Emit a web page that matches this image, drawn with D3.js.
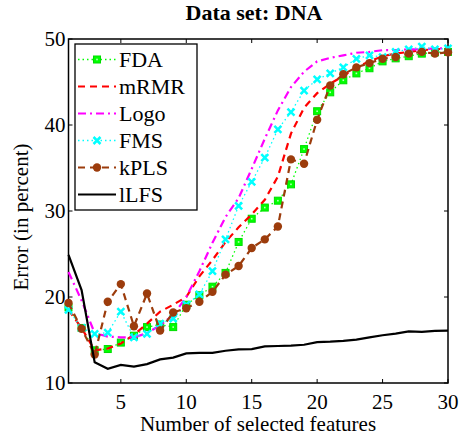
<!DOCTYPE html>
<meta charset="utf-8">
<style>
  body { margin: 0; background: #fff; }
  text { font-family: "Liberation Serif", "Times New Roman", serif; }
</style>
<div id="my_dataviz"></div>
<script src="https://d3js.org/d3.v7.min.js"></script>
<script>

// number of selected features
var features = d3.range(1, 31);

// error in percent for each method
var fda  = [18.8, 16.4, 13.8, 13.95, 14.7, 15.5, 16.5, 16.8, 16.5, 19.1, 20.2, 21.2, 22.8, 26.4, 29.1,
            30.4, 31.2, 33.1, 37.2, 41.6, 43.8, 45.2, 46.0, 46.6, 47.4, 47.75, 48.0, 48.3, 48.45, 48.5];
var mrmr = [18.5, 16.4, 13.8, 14.0, 14.6, 15.6, 16.9, 18.3, 19.1, 20.0, 22.4, 24.3, 26.4, 28.1, 29.6,
            31.3, 34.0, 39.0, 42.0, 43.7, 44.8, 45.7, 46.7, 47.4, 48.0, 48.3, 48.5, 48.7, 48.8, 48.9];
var logo = [22.9, 19.6, 15.8, 15.4, 15.3, 15.3, 15.8, 16.7, 17.9, 20.0, 23.0, 26.3, 29.3, 31.5, 34.9,
            38.4, 41.7, 44.4, 46.2, 47.4, 47.8, 48.1, 48.4, 48.5, 48.7, 48.7, 48.8, 48.8, 48.9, 48.9];
var fms  = [18.5, 16.4, 15.7, 15.85, 18.3, 15.3, 15.7, 16.9, 17.5, 19.1, 20.3, 23.0, 26.7, 30.6, 33.4,
            36.2, 39.5, 41.5, 44.0, 45.3, 46.0, 46.7, 47.7, 48.1, 47.9, 48.5, 48.8, 49.1, 48.8, 48.9];
var kpls = [19.3, 16.3, 13.3, 19.45, 21.5, 16.6, 20.4, 16.1, 18.2, 18.7, 19.45, 20.6, 22.6, 23.6, 25.7,
            26.7, 28.2, 36.0, 35.5, 40.6, 44.6, 45.9, 46.7, 47.2, 47.7, 47.9, 48.3, 48.5, 48.3, 48.45];
var llfs = [24.9, 20.8, 12.4, 11.65, 12.1, 11.9, 12.2, 12.75, 12.95, 13.45, 13.5, 13.5, 13.75, 13.9, 13.95,
            14.25, 14.3, 14.35, 14.45, 14.75, 14.8, 14.9, 15.05, 15.3, 15.55, 15.75, 16.0, 15.95, 16.05, 16.1];

var xTicks = [5, 10, 15, 20, 25, 30];
var yTicks = [10, 20, 30, 40, 50];

var series = [
  {name: "FDA",  values: fda,  color: "#00ff00", dash: "1.5,3",     width: 1.3, marker: "square"},
  {name: "mRMR", values: mrmr, color: "#ff0000", dash: "7,5",       width: 2.2, marker: "none"},
  {name: "Logo", values: logo, color: "#ff00ff", dash: "8,4,2,4",   width: 2.2, marker: "none"},
  {name: "FMS",  values: fms,  color: "#00ffff", dash: "1.5,3",     width: 1.3, marker: "cross"},
  {name: "kPLS", values: kpls, color: "#9c3c0c", dash: "7,5",       width: 2.2, marker: "circle"},
  {name: "lLFS", values: llfs, color: "#000000", dash: null,        width: 2.2, marker: "none"}
];

var W = 463, H = 439;
var svg = d3.select("#my_dataviz")
  .append("svg")
    .attr("width", W)
    .attr("height", H);

var x = d3.scaleLinear().domain([1, 30]).range([68.5, 448]);
var y = d3.scaleLinear().domain([10, 50]).range([383, 39]);

// title
svg.append("text")
  .attr("x", 254).attr("y", 20)
  .attr("text-anchor", "middle")
  .style("font-size", "22px").style("font-weight", "bold")
  .text("Data set: DNA");

// plot box
svg.append("rect")
  .attr("x", x(1)).attr("y", y(50))
  .attr("width", x(30) - x(1)).attr("height", y(10) - y(50))
  .attr("fill", "none").attr("stroke", "#000").attr("stroke-width", 1.5);

// ticks (inward, on all sides)
var tl = 4;
xTicks.forEach(function(t) {
  svg.append("line").attr("x1", x(t)).attr("x2", x(t)).attr("y1", y(10)).attr("y2", y(10) - tl)
    .attr("stroke", "#000").attr("stroke-width", 1);
  svg.append("line").attr("x1", x(t)).attr("x2", x(t)).attr("y1", y(50)).attr("y2", y(50) + tl)
    .attr("stroke", "#000").attr("stroke-width", 1);
  svg.append("text").attr("x", x(t)).attr("y", 409)
    .attr("text-anchor", "middle").style("font-size", "21px").text(t);
});
yTicks.forEach(function(t) {
  svg.append("line").attr("x1", x(1)).attr("x2", x(1) + tl).attr("y1", y(t)).attr("y2", y(t))
    .attr("stroke", "#000").attr("stroke-width", 1);
  svg.append("line").attr("x1", x(30)).attr("x2", x(30) - tl).attr("y1", y(t)).attr("y2", y(t))
    .attr("stroke", "#000").attr("stroke-width", 1);
  svg.append("text").attr("x", x(1) - 3).attr("y", y(t) + 7)
    .attr("text-anchor", "end").style("font-size", "21px").text(t);
});

// axis labels
svg.append("text")
  .attr("x", 258).attr("y", 431)
  .attr("text-anchor", "middle").style("font-size", "21px")
  .text("Number of selected features");
svg.append("text")
  .attr("transform", "translate(28," + 217 + ") rotate(-90)")
  .attr("text-anchor", "middle").style("font-size", "21px")
  .text("Error (in percent)");

var line = d3.line()
  .x(function(d, i) { return x(features[i]); })
  .y(function(d) { return y(d); });

var plot = svg.append("g");

function drawMarker(g, type, color, cx, cy) {
  if (type == "square") {
    g.append("rect").attr("x", cx - 3.5).attr("y", cy - 3.5).attr("width", 7).attr("height", 7)
      .attr("fill", "#00ff00").attr("stroke", "#00dd00").attr("stroke-width", 1);
    g.append("rect").attr("x", cx - 0.8).attr("y", cy - 0.8).attr("width", 1.6).attr("height", 1.6)
      .attr("fill", "#bbffbb");
  } else if (type == "cross") {
    g.append("path").attr("d", "M" + (cx - 3.5) + "," + (cy - 3.5) + "L" + (cx + 3.5) + "," + (cy + 3.5) +
        "M" + (cx - 3.5) + "," + (cy + 3.5) + "L" + (cx + 3.5) + "," + (cy - 3.5))
      .attr("stroke", color).attr("stroke-width", 2.5).attr("fill", "none");
  } else if (type == "circle") {
    g.append("circle").attr("cx", cx).attr("cy", cy).attr("r", 4.2).attr("fill", color);
  }
}

series.forEach(function(s) {
  plot.append("path")
    .datum(s.values)
    .attr("d", line)
    .attr("fill", "none")
    .attr("stroke", s.color)
    .attr("stroke-width", s.width)
    .attr("stroke-dasharray", s.dash);
  s.values.forEach(function(v, i) {
    drawMarker(plot, s.marker, s.color, x(features[i]), y(v));
  });
});

// legend
var lg = svg.append("g");
lg.append("rect")
  .attr("x", 75).attr("y", 44).attr("width", 122).attr("height", 166)
  .attr("fill", "#fff").attr("stroke", "#000").attr("stroke-width", 1.3);
series.forEach(function(s, i) {
  var ly = 59.5 + i * 27;
  lg.append("line")
    .attr("x1", 78).attr("x2", 116).attr("y1", ly).attr("y2", ly)
    .attr("stroke", s.color).attr("stroke-width", s.width)
    .attr("stroke-dasharray", s.dash);
  drawMarker(lg, s.marker, s.color, 97, ly);
  lg.append("text")
    .attr("x", 119).attr("y", ly + 7.5)
    .style("font-size", "22px")
    .text(s.name);
});

</script>
